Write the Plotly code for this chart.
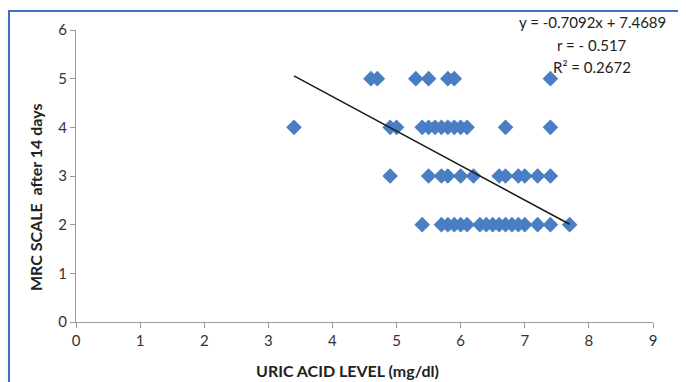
import plotly.graph_objects as go

# Data
uric_5 = [4.6, 4.7, 5.3, 5.5, 5.8, 5.9, 7.4]
uric_4 = [3.4, 4.9, 5.0, 5.4, 5.5, 5.6, 5.7, 5.8, 5.9, 6.0, 6.1, 6.7, 7.4]
uric_3 = [4.9, 5.5, 5.7, 5.8, 6.0, 6.2, 6.6, 6.7, 6.9, 7.0, 7.2, 7.4]
uric_2 = [5.4, 5.7, 5.8, 5.9, 6.0, 6.1, 6.3, 6.4, 6.5, 6.6, 6.7, 6.8, 6.9, 7.0, 7.2, 7.4, 7.7]
mrc_levels = [5, 4, 3, 2]

slope = -0.7092
intercept = 7.4689
r_text = "r = - 0.517"
r2_text = "R² = 0.2672"

x_ticks = list(range(0, 10))
y_ticks = list(range(0, 7))

x_title = "URIC ACID LEVEL (mg/dl)"
y_title = "MRC SCALE  after 14 days"

xs, ys = [], []
for lvl, arr in zip(mrc_levels, [uric_5, uric_4, uric_3, uric_2]):
    xs += arr
    ys += [lvl] * len(arr)

x_min, x_max = min(xs), max(xs)
trend_x = [x_min, x_max]
trend_y = [slope * v + intercept for v in trend_x]

# page has an 8px body margin; figure sized to fit the window
OFF = 8
W, H = 686 - OFF, 382 - OFF
L, R, T, B = 76 - OFF, 33, 30 - OFF, 60
pw, ph = W - L - R, H - T - B

def px(xp):  # page pixel -> paper
    return (xp - OFF - L) / pw

def py(yp):
    return (H - B - (yp - OFF)) / ph

fig = go.Figure()
fig.add_trace(go.Scatter(
    x=xs, y=ys, mode="markers",
    marker=dict(symbol="diamond", size=12, color="#4A7EC2", line=dict(width=0)),
    showlegend=False,
))
fig.add_trace(go.Scatter(
    x=trend_x, y=trend_y, mode="lines",
    line=dict(color="#1a1a1a", width=1.5), showlegend=False,
))

font = "Lato, 'Open Sans', sans-serif"
axis_common = dict(
    showgrid=False, zeroline=False, showline=True, linecolor="#9a9a9a", linewidth=1,
    ticks="outside", ticklen=5, tickcolor="#9a9a9a", automargin=False,
    tickfont=dict(family=font, size=15, color="#333333"),
)
fig.update_xaxes(range=[0, 9], tickvals=x_ticks, **axis_common)
fig.update_yaxes(range=[0, 6], tickvals=y_ticks, **axis_common)

title_font = dict(family=font, size=16, color="#222222")
fig.add_annotation(xref="paper", yref="paper", x=px(347), y=py(370),
                   xanchor="center", yanchor="middle", showarrow=False,
                   text=f"<b>{x_title}</b>", font=title_font)
fig.add_annotation(xref="paper", yref="paper", x=px(35), y=py(197),
                   xanchor="center", yanchor="middle", showarrow=False, textangle=-90,
                   text=f"<b>{y_title}</b>", font=title_font)

eq = f"y = {slope}x + {intercept}"
ann_font = dict(family=font, size=15, color="#222222")
for txt, yp in [(eq, 22), (r_text, 45), (r2_text, 67)]:
    fig.add_annotation(
        xref="paper", yref="paper", x=px(592), y=py(yp), xanchor="center", yanchor="middle",
        text=txt, showarrow=False, font=ann_font,
    )

# Blue frame (left and top edges)
fig.add_shape(type="line", xref="paper", yref="paper",
              x0=px(9), x1=px(9), y0=py(11), y1=py(382), line=dict(color="#3F6FC0", width=2))
fig.add_shape(type="line", xref="paper", yref="paper",
              x0=px(8), x1=px(686), y0=py(11), y1=py(11), line=dict(color="#3F6FC0", width=2))

fig.update_layout(
    width=W, height=H, margin=dict(l=L, r=R, t=T, b=B),
    plot_bgcolor="white", paper_bgcolor="white",
)
fig.write_html("out.html")
